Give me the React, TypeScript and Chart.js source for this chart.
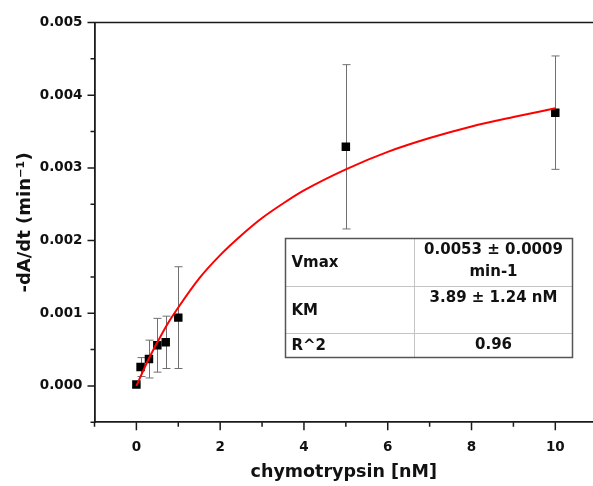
import React, { useEffect, useRef } from 'react';
import { Chart, registerables } from 'chart.js';

Chart.register(...registerables);

// ---- data ----
const concentrations = [0, 0.1, 0.3, 0.5, 0.7, 1, 5, 10];
const rates = [0.00002, 0.00026, 0.00037, 0.00056, 0.0006, 0.00094, 0.00329, 0.00376];
const rateErrors = [0, 0.00013, 0.00026, 0.00037, 0.00036, 0.0007, 0.00113, 0.00078];

const fitConcentrations = [0, 0.25, 0.5, 0.75, 1, 1.5, 2, 2.5, 3, 3.5, 4, 5, 6, 7, 8, 9, 10];
const fitRates = [0, 0.00032, 0.0006, 0.00086, 0.00108, 0.00148, 0.0018, 0.00207, 0.00231, 0.00251, 0.00269, 0.00298, 0.00322, 0.00341, 0.00357, 0.0037, 0.00382];

const xTickValues = [-1, 0, 1, 2, 3, 4, 5, 6, 7, 8, 9, 10];
const xTickLabels = ['', '0', '', '2', '', '4', '', '6', '', '8', '', '10'];
const yTickValues = [-0.0005, 0, 0.0005, 0.001, 0.0015, 0.002, 0.0025, 0.003, 0.0035, 0.004, 0.0045, 0.005];
const yTickLabels = ['', '0.000', '', '0.001', '', '0.002', '', '0.003', '', '0.004', '', '0.005'];

const tableLabels = ['Vmax', 'KM', 'R^2'];
const tableValues = [['0.0053 ± 0.0009', 'min-1'], ['3.89 ± 1.24 nM'], ['0.96']];

const FONT = '"DejaVu Sans", sans-serif';

const tickMarksPlugin = {
  id: 'tickMarks',
  afterDraw(chart: any) {
    const { ctx, chartArea } = chart;
    const xs = chart.scales.x;
    const ys = chart.scales.y;
    ctx.save();
    ctx.strokeStyle = '#1a1a1a';
    ctx.lineWidth = 1.5;
    ctx.beginPath();
    xs.ticks.forEach((t: any, i: number) => {
      const px = xs.getPixelForValue(t.value);
      const len = xTickLabels[i] ? 8 : 4.5;
      ctx.moveTo(px, chartArea.bottom);
      ctx.lineTo(px, chartArea.bottom + len);
    });
    ys.ticks.forEach((t: any, i: number) => {
      const py = ys.getPixelForValue(t.value);
      const len = yTickLabels[i] ? 7 : 4;
      ctx.moveTo(chartArea.left, py);
      ctx.lineTo(chartArea.left - len, py);
    });
    // top frame line
    ctx.moveTo(chartArea.left, chartArea.top);
    ctx.lineTo(chart.width, chartArea.top);
    ctx.stroke();
    ctx.restore();
  },
};

const errorBarsPlugin = {
  id: 'errorBars',
  beforeDatasetsDraw(chart: any) {
    const { ctx } = chart;
    const xs = chart.scales.x;
    const ys = chart.scales.y;
    ctx.save();
    ctx.strokeStyle = '#707070';
    ctx.lineWidth = 1;
    ctx.beginPath();
    concentrations.forEach((c, i) => {
      const e = rateErrors[i];
      if (!e) return;
      const px = Math.round(xs.getPixelForValue(c)) + 0.5;
      const top = ys.getPixelForValue(rates[i] + e);
      const bot = ys.getPixelForValue(rates[i] - e);
      ctx.moveTo(px, top);
      ctx.lineTo(px, bot);
      ctx.moveTo(px - 4, top);
      ctx.lineTo(px + 4, top);
      ctx.moveTo(px - 4, bot);
      ctx.lineTo(px + 4, bot);
    });
    ctx.stroke();
    ctx.restore();
  },
};

// table frame in data units of the chart
const tableColumns = [3.55, 6.63, 10.4];
const tableRowEdges = [0.00204, 0.00138, 0.00073, 0.0004];

const tablePlugin = {
  id: 'fitTable',
  afterDatasetsDraw(chart: any) {
    const { ctx } = chart;
    const xs = chart.scales.x;
    const ys = chart.scales.y;
    const cx = tableColumns.map((v) => Math.round(xs.getPixelForValue(v)) + 0.5);
    const ry = tableRowEdges.map((v) => Math.round(ys.getPixelForValue(v)) + 0.5);
    ctx.save();
    ctx.fillStyle = '#ffffff';
    ctx.fillRect(cx[0], ry[0], cx[2] - cx[0], ry[3] - ry[0]);
    // inner lines
    ctx.strokeStyle = '#c4c4c4';
    ctx.lineWidth = 1;
    ctx.beginPath();
    ctx.moveTo(cx[1], ry[0]);
    ctx.lineTo(cx[1], ry[3]);
    ctx.moveTo(cx[0], ry[1]);
    ctx.lineTo(cx[2], ry[1]);
    ctx.moveTo(cx[0], ry[2]);
    ctx.lineTo(cx[2], ry[2]);
    ctx.stroke();
    // outer border
    ctx.strokeStyle = '#555555';
    ctx.lineWidth = 1.5;
    ctx.strokeRect(cx[0], ry[0], cx[2] - cx[0], ry[3] - ry[0]);
    // text
    ctx.fillStyle = '#111111';
    ctx.font = `bold 15px ${FONT}`;
    ctx.textBaseline = 'middle';
    tableLabels.forEach((label, r) => {
      const mid = (ry[r] + ry[r + 1]) / 2;
      ctx.textAlign = 'left';
      ctx.fillText(label, cx[0] + 6, mid + 1);
      ctx.textAlign = 'center';
      tableValues[r].forEach((line, k) => {
        ctx.fillText(line, (cx[1] + cx[2]) / 2, ry[r] + 12 + k * 22);
      });
    });
    ctx.restore();
  },
};

export default function App() {
  const canvasRef = useRef<HTMLCanvasElement | null>(null);

  useEffect(() => {
    const canvas = canvasRef.current;
    if (!canvas) return;
    const tickFont = { family: FONT, size: 13.5, weight: 'bold' as const };
    const chart = new Chart(canvas, {
      type: 'scatter',
      data: {
        datasets: [
          {
            type: 'line',
            label: 'fit',
            data: fitConcentrations.map((x, i) => ({ x, y: fitRates[i] })),
            borderColor: '#ff0000',
            borderWidth: 2,
            pointRadius: 0,
            fill: false,
            cubicInterpolationMode: 'monotone',
            order: 0,
          } as any,
          {
            type: 'scatter',
            label: 'data',
            data: concentrations.map((x, i) => ({ x, y: rates[i] })),
            pointStyle: 'rect',
            pointRadius: 6,
            backgroundColor: '#000000',
            borderWidth: 0,
            order: 1,
          } as any,
        ],
      },
      options: {
        responsive: false,
        animation: false,
        devicePixelRatio: 1,
        layout: { autoPadding: false, padding: { top: 22.5, left: 0, right: 0, bottom: 0 } },
        plugins: {
          legend: { display: false },
          tooltip: { enabled: false },
        },
        scales: {
          x: {
            type: 'linear',
            min: -1,
            max: 10.9,
            afterBuildTicks: (scale: any) => {
              scale.ticks = xTickValues.map((v) => ({ value: v }));
            },
            afterFit: (scale: any) => {
              scale.height = 63.7;
              scale.paddingRight = 0;
              scale.paddingLeft = 0;
            },
            grid: { display: false, drawTicks: false },
            border: { display: true, color: '#1a1a1a', width: 1.8 },
            ticks: {
              autoSkip: false,
              maxRotation: 0,
              padding: 17,
              color: '#111111',
              font: tickFont,
              callback: (_v: any, i: number) => xTickLabels[i],
            },
            title: {
              display: true,
              text: 'chymotrypsin [nM]',
              color: '#111111',
              font: { family: FONT, size: 17.5, weight: 'bold' },
              padding: { top: 0, bottom: 3 },
            },
          },
          y: {
            type: 'linear',
            min: -0.0005,
            max: 0.005,
            afterBuildTicks: (scale: any) => {
              scale.ticks = yTickValues.map((v) => ({ value: v }));
            },
            afterFit: (scale: any) => {
              scale.width = 94.5;
            },
            grid: { display: false, drawTicks: false },
            border: { display: true, color: '#1a1a1a', width: 1.8 },
            ticks: {
              autoSkip: false,
              padding: 12,
              color: '#111111',
              font: tickFont,
              callback: (_v: any, i: number) => yTickLabels[i],
            },
            title: {
              display: true,
              text: '-dA/dt (min⁻¹)',
              color: '#111111',
              font: { family: FONT, size: 18, weight: 'bold' },
              padding: { top: 15, bottom: 0 },
            },
          },
        },
      },
      plugins: [errorBarsPlugin, tablePlugin, tickMarksPlugin],
    });
    return () => chart.destroy();
  }, []);

  return (
    <div style={{ position: 'absolute', left: 0, top: 0, width: 593, height: 486, background: '#ffffff' }}>
      <canvas ref={canvasRef} width={593} height={486} style={{ width: 593, height: 486 }} />
    </div>
  );
}
